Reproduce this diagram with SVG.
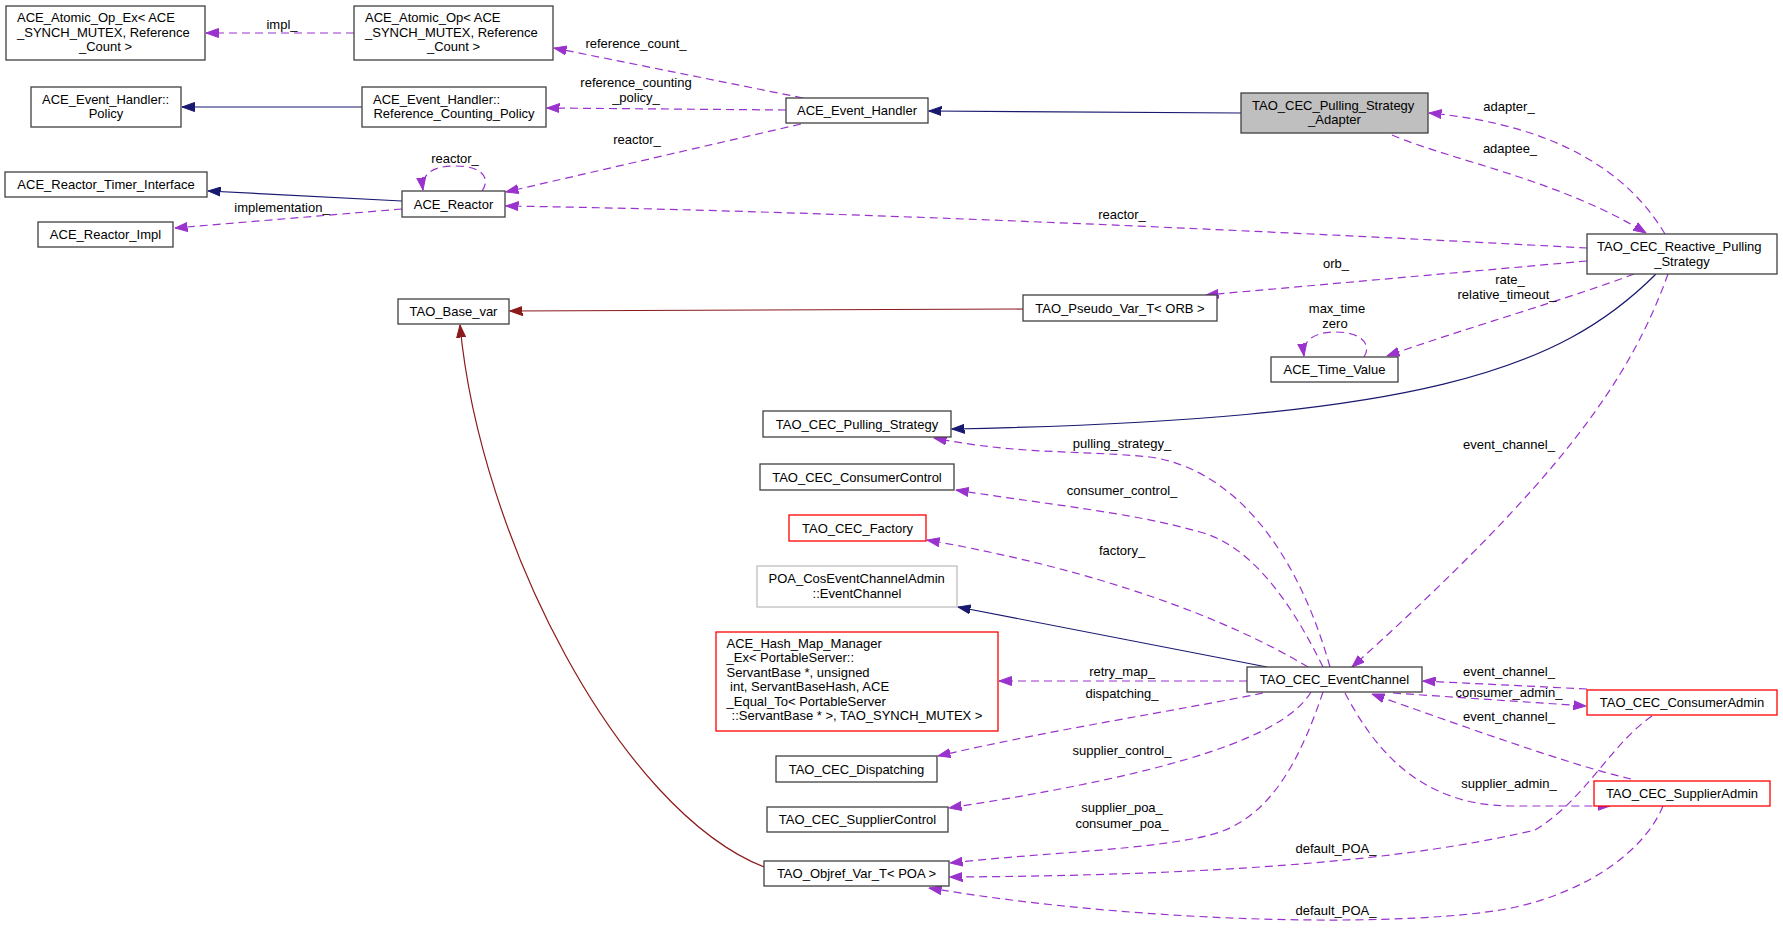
<svg xmlns="http://www.w3.org/2000/svg" width="1783" height="929" viewBox="0 0 1783 929">
<style>
text{font-family:"Liberation Sans",Arial,Helvetica,sans-serif;font-size:13px;fill:#000}
.c{text-anchor:middle}
.node rect{fill:#fff;stroke:#404040;stroke-width:1.3}
.node.red rect{stroke:#ff0000}
.node.gray rect{stroke:#bfbfbf}
.node.hl rect{fill:#bfbfbf}
.e{fill:none;stroke-width:1.2}
.d{stroke:#9a32cd;stroke-dasharray:8,5;marker-end:url(#ap)}
.n{stroke:#191970;marker-end:url(#an)}
.f{stroke:#8b1a1a;marker-end:url(#af)}
</style>
<defs>
<marker id="ap" viewBox="0 0 13 10" refX="12.5" refY="5" markerWidth="13" markerHeight="10" markerUnits="userSpaceOnUse" orient="auto"><path d="M0,0.5 L12.5,5 L0,9.5 z" fill="#9a32cd" stroke="#9a32cd" stroke-width="1"/></marker>
<marker id="an" viewBox="0 0 13 10" refX="12.5" refY="5" markerWidth="13" markerHeight="10" markerUnits="userSpaceOnUse" orient="auto"><path d="M0,0.5 L12.5,5 L0,9.5 z" fill="#191970" stroke="#191970" stroke-width="1"/></marker>
<marker id="af" viewBox="0 0 13 10" refX="12.5" refY="5" markerWidth="13" markerHeight="10" markerUnits="userSpaceOnUse" orient="auto"><path d="M0,0.5 L12.5,5 L0,9.5 z" fill="#8b1a1a" stroke="#8b1a1a" stroke-width="1"/></marker>
</defs>
<rect x="0" y="0" width="1783" height="929" fill="#fff"/>
<g id="edges">
<path class="e d" d="M354,33 L206,33"/>
<text class="c" x="282" y="29">impl_</text>
<path class="e d" d="M803,98 L554,48"/>
<text class="c" x="636" y="47.5">reference_count_</text>
<path class="e d" d="M786,110 L547,108"/>
<text class="c" x="636" y="87">reference_counting</text>
<text class="c" x="636" y="102">_policy_</text>
<path class="e d" d="M801,124 L506,192"/>
<text class="c" x="637" y="144">reactor_</text>
<path class="e n" d="M362,107 L182,107"/>
<path class="e n" d="M402,201 L208,191"/>
<path class="e d" d="M402,209 L175,228"/>
<text class="c" x="282" y="212">implementation_</text>
<path class="e d" d="M482,191 C490,180 485,166 455,166 C430,166 421,176 423,190"/>
<text class="c" x="455" y="163">reactor_</text>
<path class="e d" d="M1587,248 C1400,238 900,212 506,206"/>
<text class="c" x="1122" y="219">reactor_</text>
<path class="e n" d="M1241,113 L929,111"/>
<path class="e d" d="M1665,234 C1630,175 1560,125 1429,113"/>
<text class="c" x="1509" y="111">adapter_</text>
<path class="e d" d="M1392,135 C1450,160 1560,180 1646,233"/>
<text class="c" x="1510" y="153">adaptee_</text>
<path class="e d" d="M1587,261 L1206,295"/>
<text class="c" x="1336" y="268">orb_</text>
<path class="e d" d="M1634,274 C1580,295 1460,330 1387,356"/>
<text class="c" x="1510" y="284">rate_</text>
<text class="c" x="1507" y="299">relative_timeout_</text>
<path class="e d" d="M1364,357 C1372,345 1362,332 1336,332 C1312,332 1302,342 1304,356"/>
<text class="c" x="1337" y="313">max_time</text>
<text class="c" x="1335" y="328">zero</text>
<path class="e f" d="M1023,309 L510,311"/>
<path class="e f" d="M764,867 C620,810 480,540 460,325"/>
<path class="e n" d="M1656,274 C1560,370 1420,420 952,429"/>
<path class="e d" d="M1668,274 C1630,380 1560,480 1352,667"/>
<text class="c" x="1509" y="449">event_channel_</text>
<path class="e d" d="M1330,667 C1300,560 1240,470 1150,457 C1080,450 1020,455 934,438"/>
<text class="c" x="1122" y="448">pulling_strategy_</text>
<path class="e d" d="M1323,667 C1290,600 1250,545 1200,532 C1130,512 1050,505 956,490"/>
<text class="c" x="1122" y="495">consumer_control_</text>
<path class="e d" d="M1308,667 C1230,620 1100,570 927,540"/>
<text class="c" x="1122" y="555">factory_</text>
<path class="e n" d="M1267,667 L958,607"/>
<path class="e d" d="M1247,681 L999,681"/>
<text class="c" x="1122" y="676">retry_map_</text>
<path class="e d" d="M1263,693 C1180,710 1050,730 938,756"/>
<text class="c" x="1122" y="698">dispatching_</text>
<path class="e d" d="M1311,692 C1280,745 1130,780 949,808"/>
<text class="c" x="1122" y="755">supplier_control_</text>
<path class="e d" d="M1323,692 C1300,760 1270,820 1210,835 C1150,850 1050,852 950,863"/>
<text class="c" x="1122" y="812">supplier_poa_</text>
<text class="c" x="1122" y="828">consumer_poa_</text>
<path class="e d" d="M1587,689 L1423,681"/>
<text class="c" x="1509" y="676">event_channel_</text>
<path class="e d" d="M1393,693 L1586,706"/>
<text class="c" x="1509" y="697">consumer_admin_</text>
<path class="e d" d="M1631,779 C1570,765 1460,725 1372,694"/>
<text class="c" x="1509" y="721">event_channel_</text>
<path class="e d" d="M1345,693 C1375,750 1420,805 1510,806 L1610,806"/>
<text class="c" x="1509" y="788">supplier_admin_</text>
<path class="e d" d="M1652,716 C1610,745 1585,800 1535,830 C1450,850 1300,875 950,877"/>
<text class="c" x="1336" y="853">default_POA_</text>
<path class="e d" d="M1663,806 C1645,850 1590,890 1516,907 C1420,928 1150,925 929,888"/>
<text class="c" x="1336" y="915">default_POA_</text>
</g>
<g id="n_atomic_op_ex" class="node"><rect x="6" y="6" width="199" height="54"/><text x="17" y="22">ACE_Atomic_Op_Ex&lt; ACE</text><text x="17" y="36.5">_SYNCH_MUTEX, Reference</text><text class="c" x="105.5" y="51">_Count &gt;</text></g>
<g id="n_atomic_op" class="node"><rect x="354" y="6" width="199" height="54"/><text x="365" y="22">ACE_Atomic_Op&lt; ACE</text><text x="365" y="36.5">_SYNCH_MUTEX, Reference</text><text class="c" x="453.5" y="51">_Count &gt;</text></g>
<g id="n_policy" class="node"><rect x="31" y="87" width="150" height="40"/><text x="42" y="104">ACE_Event_Handler::</text><text class="c" x="106" y="118">Policy</text></g>
<g id="n_ref_policy" class="node"><rect x="362" y="87" width="184" height="40"/><text x="373" y="104">ACE_Event_Handler::</text><text class="c" x="454" y="118">Reference_Counting_Policy</text></g>
<g id="n_timer_if" class="node"><rect x="5" y="172" width="202" height="25"/><text class="c" x="106" y="188.5">ACE_Reactor_Timer_Interface</text></g>
<g id="n_reactor" class="node"><rect x="402" y="191" width="103" height="26"/><text class="c" x="453.5" y="208.5">ACE_Reactor</text></g>
<g id="n_reactor_impl" class="node"><rect x="38" y="222" width="135" height="25"/><text class="c" x="105.5" y="239">ACE_Reactor_Impl</text></g>
<g id="n_event_handler" class="node"><rect x="786" y="98" width="142" height="25"/><text class="c" x="857" y="115">ACE_Event_Handler</text></g>
<g id="n_adapter" class="node hl"><rect x="1241" y="93" width="187" height="40"/><text x="1252" y="110">TAO_CEC_Pulling_Strategy</text><text class="c" x="1334.5" y="124">_Adapter</text></g>
<g id="n_reactive" class="node"><rect x="1587" y="234" width="190" height="40"/><text x="1597" y="251">TAO_CEC_Reactive_Pulling</text><text class="c" x="1682" y="265.5">_Strategy</text></g>
<g id="n_base_var" class="node"><rect x="398" y="299" width="111" height="25"/><text class="c" x="453.5" y="316">TAO_Base_var</text></g>
<g id="n_pseudo_var" class="node"><rect x="1023" y="295" width="194" height="26"/><text class="c" x="1120" y="312.5">TAO_Pseudo_Var_T&lt; ORB &gt;</text></g>
<g id="n_time_value" class="node"><rect x="1271" y="357" width="127" height="25"/><text class="c" x="1334.5" y="374">ACE_Time_Value</text></g>
<g id="n_pulling_strategy" class="node"><rect x="763" y="411" width="188" height="26"/><text class="c" x="857" y="428.5">TAO_CEC_Pulling_Strategy</text></g>
<g id="n_consumer_control" class="node"><rect x="760" y="464" width="194" height="26"/><text class="c" x="857" y="481.5">TAO_CEC_ConsumerControl</text></g>
<g id="n_factory" class="node red"><rect x="789" y="515" width="137" height="26"/><text class="c" x="857.5" y="532.5">TAO_CEC_Factory</text></g>
<g id="n_poa_event_channel" class="node gray"><rect x="757" y="566" width="200" height="41"/><text x="768.5" y="583">POA_CosEventChannelAdmin</text><text class="c" x="857" y="597.5">::EventChannel</text></g>
<g id="n_hash_map" class="node red"><rect x="716" y="632" width="282" height="99"/><text x="726.5" y="647.5">ACE_Hash_Map_Manager</text><text x="726.5" y="662">_Ex&lt; PortableServer::</text><text x="726.5" y="676.5">ServantBase *, unsigned</text><text x="726.5" y="691" xml:space="preserve"> int, ServantBaseHash, ACE</text><text x="726.5" y="705.5">_Equal_To&lt; PortableServer</text><text class="c" x="857" y="720">::ServantBase * &gt;, TAO_SYNCH_MUTEX &gt;</text></g>
<g id="n_event_channel" class="node"><rect x="1247" y="667" width="175" height="25"/><text class="c" x="1334.5" y="684">TAO_CEC_EventChannel</text></g>
<g id="n_consumer_admin" class="node red"><rect x="1587" y="690" width="190" height="25"/><text class="c" x="1682" y="707">TAO_CEC_ConsumerAdmin</text></g>
<g id="n_supplier_admin" class="node red"><rect x="1594" y="781" width="176" height="25"/><text class="c" x="1682" y="798">TAO_CEC_SupplierAdmin</text></g>
<g id="n_dispatching" class="node"><rect x="776" y="756" width="161" height="26"/><text class="c" x="856.5" y="773.5">TAO_CEC_Dispatching</text></g>
<g id="n_supplier_control" class="node"><rect x="767" y="807" width="181" height="25"/><text class="c" x="857.5" y="824">TAO_CEC_SupplierControl</text></g>
<g id="n_objref_poa" class="node"><rect x="764" y="861" width="185" height="25"/><text class="c" x="856.5" y="878">TAO_Objref_Var_T&lt; POA &gt;</text></g>
</svg>
